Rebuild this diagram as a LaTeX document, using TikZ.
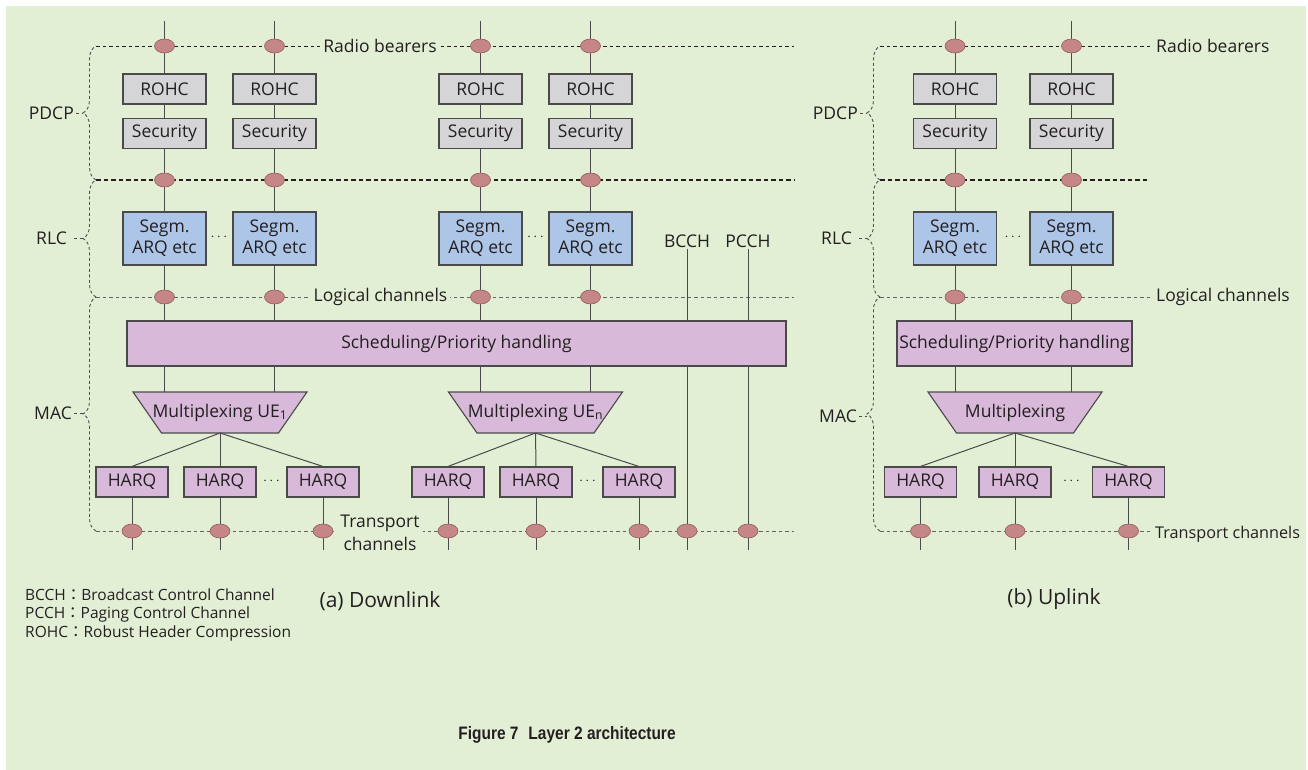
\documentclass[tikz,border=0pt]{standalone}
\usepackage{fontspec}
\setmainfont{Open Sans}
\newfontfamily\capfont[FakeStretch=0.86]{Liberation Sans}
\newfontfamily\cjkfont{Noto Sans CJK JP}
\usetikzlibrary{decorations.pathreplacing,shapes.geometric,calc}

\definecolor{paper}{HTML}{E2EFD5}
\definecolor{grayfill}{HTML}{D5D5D7}
\definecolor{bluefill}{HTML}{ADC5E7}
\definecolor{lilac}{HTML}{D8B9DA}
\definecolor{ovalfill}{HTML}{C48686}
\definecolor{ovaledge}{HTML}{8E5C5C}
\definecolor{ink}{HTML}{231F20}
\definecolor{edge}{HTML}{4A4A4A}

% trapezoid multiplexer: name, centre x, label
\newcommand{\muxblock}[3]{%
  \draw[muxshape] (#2-87,392) -- (#2+87,392) -- (#2+58.5,433) -- (#2-58.5,433) -- cycle;
  \node[inner sep=0pt] (#1) at (#2,412.5) {#3};
  \coordinate (#1-top) at (#2,392);
  \coordinate (#1-bot) at (#2,433);
}

\begin{document}
\begin{tikzpicture}[x=1pt,y=-1pt,
  font=\fontsize{17.5}{21}\selectfont, text=ink,
  box/.style={draw=edge, line width=1.1pt, inner sep=0pt, minimum width=83pt, minimum height=30pt},
  pdcp/.style={box, fill=grayfill},
  rlc/.style={box, fill=bluefill, minimum height=53pt, align=center},
  harq/.style={box, fill=lilac, minimum width=72pt},
  sched/.style={box, fill=lilac, minimum height=45pt},
  muxshape/.style={draw=edge, line width=1.1pt, fill=lilac},
  link/.style={draw=edge, line width=1pt},
  chan/.style={draw=ovaledge, line width=0.6pt, fill=ovalfill, ellipse, minimum width=20pt, minimum height=14pt, inner sep=0pt},
  bound/.style={draw=ink, line width=1.3pt, dash pattern=on 4.5pt off 3pt},
  chanline/.style={draw=ink!70, line width=0.9pt, dash pattern=on 3.5pt off 3pt},
  topline/.style={draw=ink, line width=0.9pt, dash pattern=on 3.5pt off 3pt},
  layerbrace/.style={draw=ink!80, line width=0.9pt, dash pattern=on 3pt off 2.5pt,
    decorate, decoration={brace, amplitude=13pt, aspect=0.5}},
  leader/.style={draw=ink!80, line width=0.9pt, dash pattern=on 3pt off 2.5pt},
  layerlbl/.style={anchor=east, inner sep=2pt},
  chanlbl/.style={fill=paper, inner xsep=3pt, inner ysep=1pt, align=center},
  ellip/.style={font=\fontsize{14}{16}\selectfont},
  subcap/.style={font=\fontsize{21}{24}\selectfont},
  legend/.style={anchor=west, inner sep=0pt, font=\fontsize{15.5}{18}\selectfont},
]
\useasboundingbox (0,0) rectangle (1308,770);
\fill[white] (0,0) rectangle (1308,770);
\fill[paper] (6,6) rectangle (1306,770);

% ---------------- Downlink ----------------
% layer boundaries
\draw[topline] (96,46) -- (794,46);
\draw[bound] (96,180) -- (794,180);
\draw[chanline] (96,297) -- (794,297);
\draw[chanline] (96,531) -- (794,531);
\draw[layerbrace] (96,180) -- (96,46);
\draw[layerbrace] (96,297) -- (96,180);
\draw[layerbrace] (96,531) -- (96,297);
\node[layerlbl] (dlpdcp) at (76,113) {PDCP};
\node[layerlbl] (dlrlc) at (69,238) {RLC};
\node[layerlbl] (dlmac) at (74,413) {MAC};
\draw[leader] (dlpdcp.east) -- (83,113);
\draw[leader] (dlrlc.east) ++(5,0) -- (83,238);
\draw[leader] (dlmac.east) -- (83,413);

% per-bearer PDCP / RLC chains
\foreach \n/\x in {d1/164.5,d2/274.5,d3/480.5,d4/590.5}{
  \coordinate (\n-top) at (\x,21);
  \node[pdcp] (\n-rohc) at (\x,89) {ROHC};
  \node[pdcp] (\n-sec) at (\x,133.5) {Security};
  \node[rlc] (\n-seg) at (\x,238.5) {Segm.\\ARQ etc};
}
\node[ellip] at (219,237) {$\cdots$};
\node[ellip] at (535.5,237) {$\cdots$};

\node[sched, minimum width=659pt] (dsched) at (456.5,343.5) {Scheduling/Priority handling};
\muxblock{mux1}{220}{Multiplexing UE\textsubscript{1}}
\muxblock{muxn}{535.5}{Multiplexing UE\textsubscript{n}}

\foreach \n/\x in {dh1/132,dh2/220,dh3/323,dh4/448,dh5/536,dh6/639}{
  \node[harq] (\n) at (\x,482) {HARQ};
  \coordinate (\n-bot) at (\x,550);
}
\node[ellip] at (271.5,481) {$\cdots$};
\node[ellip] at (587.5,481) {$\cdots$};

\node[inner sep=1pt] (bcch) at (687,241) {BCCH};
\node[inner sep=1pt] (pcch) at (748,241) {PCCH};
\coordinate (bcch-bot) at (687,550);
\coordinate (pcch-bot) at (748,550);

\foreach \n in {d1,d2,d3,d4}{
  \draw[link] (\n-top) -- (\n-rohc);
  \draw[link] (\n-rohc) -- (\n-sec);
  \draw[link] (\n-sec) -- (\n-seg);
  \draw[link] (\n-seg) -- (\n-seg |- dsched.north);
}
\draw[link] (d1-seg |- dsched.south) -- (d1-seg |- mux1-top);
\draw[link] (d2-seg |- dsched.south) -- (d2-seg |- mux1-top);
\draw[link] (d3-seg |- dsched.south) -- (d3-seg |- muxn-top);
\draw[link] (d4-seg |- dsched.south) -- (d4-seg |- muxn-top);
\foreach \h in {dh1,dh2,dh3}{\draw[link] (mux1-bot) -- (\h.north);}
\foreach \h in {dh4,dh5,dh6}{\draw[link] (muxn-bot) -- (\h.north);}
\foreach \h in {dh1,dh2,dh3,dh4,dh5,dh6}{\draw[link] (\h) -- (\h-bot);}
\draw[link] (bcch) -- (bcch |- dsched.north);
\draw[link] (bcch |- dsched.south) -- (bcch-bot);
\draw[link] (pcch) -- (pcch |- dsched.north);
\draw[link] (pcch |- dsched.south) -- (pcch-bot);

% channel points
\foreach \x in {164.5,274.5,480.5,590.5}{
  \node[chan] at (\x,46) {};
  \node[chan] at (\x,180) {};
  \node[chan] at (\x,297) {};
}
\foreach \x in {132,220,323,448,536,639,687,748}{\node[chan] at (\x,531) {};}

\node[chanlbl] at (380,46) {Radio bearers};
\node[chanlbl] at (380.5,297) {Logical channels};
\node[chanlbl, font=\fontsize{17.5}{22.5}\selectfont] at (380,533) {Transport\\channels};

\node[subcap] at (380,601) {(a) Downlink};

% ---------------- Uplink ----------------
\draw[topline] (880,46) -- (1150,46);
\draw[bound] (880,180) -- (1150,180);
\draw[chanline] (880,297) -- (1150,297);
\draw[chanline] (880,531) -- (1150,531);
\draw[layerbrace] (880,180) -- (880,46);
\draw[layerbrace] (880,297) -- (880,180);
\draw[layerbrace] (880,531) -- (880,297);
\node[layerlbl] (ulpdcp) at (860,113) {PDCP};
\node[layerlbl] (ulrlc) at (854,238) {RLC};
\node[layerlbl] (ulmac) at (859,416) {MAC};
\draw[leader] (ulpdcp.east) -- (867,113);
\draw[leader] (ulrlc.east) ++(5,0) -- (867,238);
\draw[leader] (ulmac.east) -- (867,416);

\foreach \n/\x in {u1/955,u2/1071.5}{
  \coordinate (\n-top) at (\x,21);
  \node[pdcp] (\n-rohc) at (\x,89) {ROHC};
  \node[pdcp] (\n-sec) at (\x,133.5) {Security};
  \node[rlc] (\n-seg) at (\x,238.5) {Segm.\\ARQ etc};
}
\node[ellip] at (1013,237) {$\cdots$};
\node[sched, minimum width=235pt] (usched) at (1014.5,343.5) {Scheduling/Priority handling};
\muxblock{umux}{1015}{Multiplexing}
\foreach \n/\x in {uh1/920.5,uh2/1015,uh3/1128.5}{
  \node[harq] (\n) at (\x,482) {HARQ};
  \coordinate (\n-bot) at (\x,550);
}
\node[ellip] at (1071.5,481) {$\cdots$};

\foreach \n in {u1,u2}{
  \draw[link] (\n-top) -- (\n-rohc);
  \draw[link] (\n-rohc) -- (\n-sec);
  \draw[link] (\n-sec) -- (\n-seg);
  \draw[link] (\n-seg) -- (\n-seg |- usched.north);
  \draw[link] (\n-seg |- usched.south) -- (\n-seg |- umux-top);
}
\foreach \h in {uh1,uh2,uh3}{
  \draw[link] (umux-bot) -- (\h.north);
  \draw[link] (\h) -- (\h-bot);
}
\foreach \x in {955,1071.5}{
  \node[chan] at (\x,46) {};
  \node[chan] at (\x,180) {};
  \node[chan] at (\x,297) {};
}
\foreach \x in {920.5,1015,1128.5}{\node[chan] at (\x,531) {};}

\node[anchor=west, inner sep=0pt] at (1156,46) {Radio bearers};
\node[anchor=west, inner sep=0pt] at (1156,297) {Logical channels};
\node[anchor=west, inner sep=0pt, font=\fontsize{16.2}{19}\selectfont] at (1155,534) {Transport channels};

\node[subcap] at (1054,599) {(b) Uplink};

% ---------------- Legend and caption ----------------
\node[legend] at (25,595) {BCCH{\cjkfont ：}Broadcast Control Channel};
\node[legend] at (25,614) {PCCH{\cjkfont ：}Paging Control Channel};
\node[legend] at (25,633) {ROHC{\cjkfont ：}Robust Header Compression};

\node[font=\fontsize{18}{21}\selectfont\capfont\bfseries] at (567,735) {Figure 7\hspace{0.55em}Layer 2 architecture};
\end{tikzpicture}
\end{document}
